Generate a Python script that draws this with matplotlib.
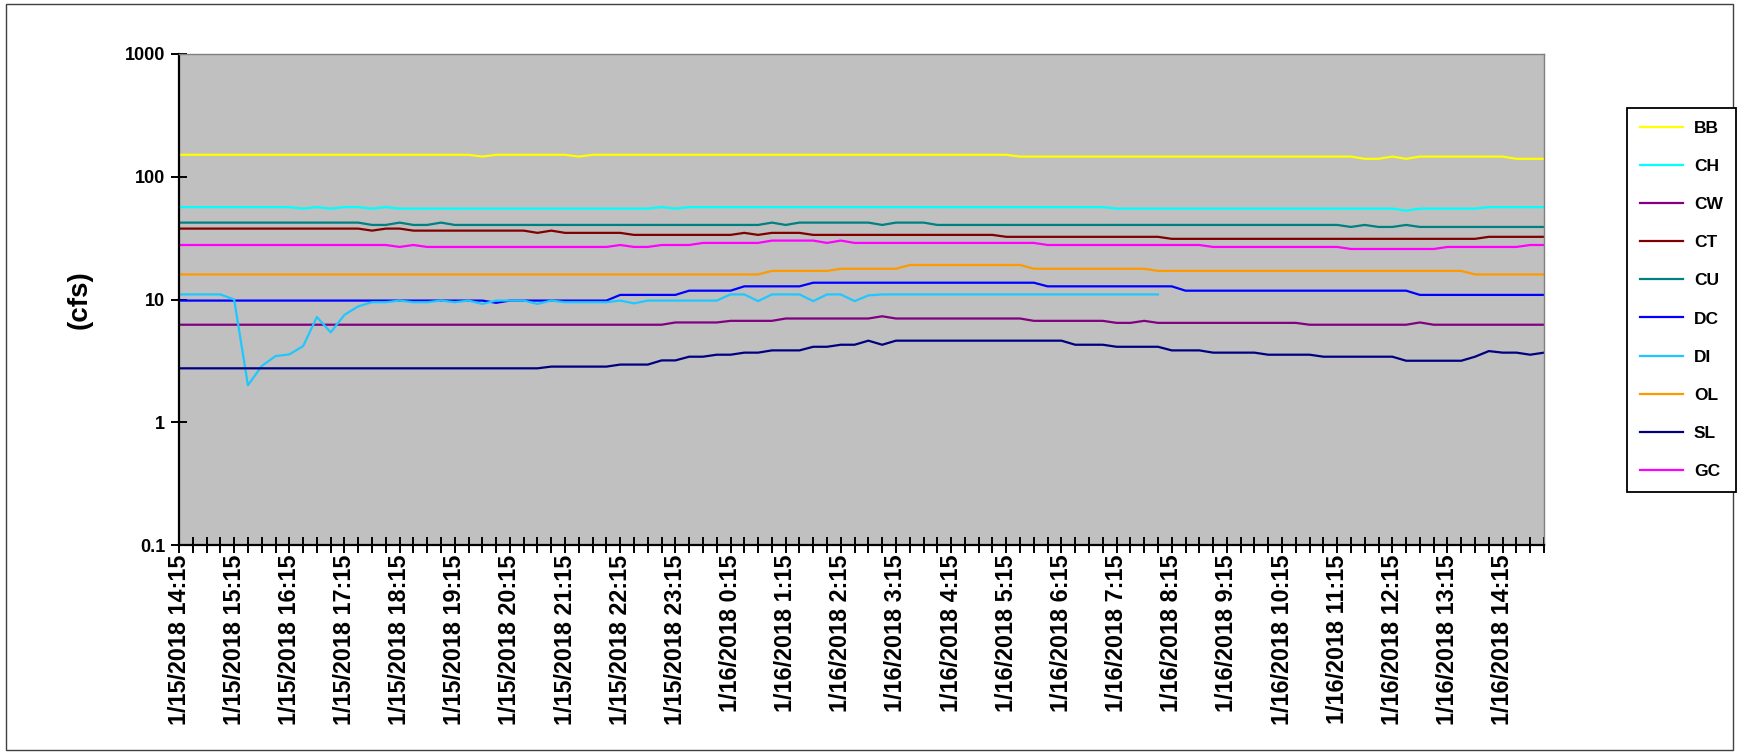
import numpy as np
import pandas as pd
import matplotlib
matplotlib.use("Agg")
import matplotlib.pyplot as plt
from matplotlib.patches import Rectangle

# 15 minute readings, 1/15/2018 14:15 -> 1/16/2018 15:00
times = pd.date_range("2018-01-15 14:15", periods=100, freq="15min")
time_labels = [f"{t.month}/{t.day}/{t.year} {t.hour}:{t.minute:02d}" for t in times]

names = ["BB", "CH", "CW", "CT", "CU", "DC", "DI", "OL", "SL", "GC"]
colors = ["#FFFF00", "#00FFFF", "#800080", "#800000", "#008080",
          "#0000FF", "#1EC8FF", "#FF9900", "#000080", "#FF00FF"]

nan = np.nan

BB = [151]*10 + [151]*10 + \
     [151, 151, 146, 151, 151, 151, 151, 151, 151, 146] + \
     [151]*10 + [151]*10 + [151]*10 + \
     [151, 146, 146, 146, 146, 146, 146, 146, 146, 146] + \
     [146]*10 + \
     [146, 146, 146, 146, 146, 146, 140, 140, 146, 140] + \
     [146, 146, 146, 146, 146, 146, 146, 140, 140, 140]

CH = [56.6, 56.6, 56.6, 56.6, 56.6, 56.6, 56.6, 56.6, 56.6, 55] + \
     [56.6, 55, 56.6, 56.6, 55, 56.6, 55, 55, 55, 55] + \
     [55]*10 + \
     [55, 55, 55, 55, 55, 56.6, 55, 56.6, 56.6, 56.6] + \
     [56.6]*10 + [56.6]*10 + \
     [56.6, 56.6, 56.6, 56.6, 56.6, 56.6, 56.6, 56.6, 55, 55] + \
     [55]*10 + \
     [55, 55, 55, 55, 55, 55, 55, 55, 55, 52.9] + \
     [55, 55, 55, 55, 55, 56.6, 56.6, 56.6, 56.6, 56.6]

CW = [6.23]*10 + [6.23]*10 + [6.23]*10 + \
     [6.23, 6.23, 6.23, 6.23, 6.23, 6.23, 6.5, 6.5, 6.5, 6.5] + \
     [6.7, 6.7, 6.7, 6.7, 7.0, 7.0, 7.0, 7.0, 7.0, 7.0] + \
     [7.0, 7.3, 7.0, 7.0, 7.0, 7.0, 7.0, 7.0, 7.0, 7.0] + \
     [7.0, 7.0, 6.7, 6.7, 6.7, 6.7, 6.7, 6.7, 6.45, 6.45] + \
     [6.7, 6.45, 6.45, 6.45, 6.45, 6.45, 6.45, 6.45, 6.45, 6.45] + \
     [6.45, 6.45, 6.23, 6.23, 6.23, 6.23, 6.23, 6.23, 6.23, 6.23] + \
     [6.5, 6.23, 6.23, 6.23, 6.23, 6.23, 6.23, 6.23, 6.23, 6.23]

CT = [37.8]*10 + \
     [37.8, 37.8, 37.8, 37.8, 36.4, 37.8, 37.8, 36.4, 36.4, 36.4] + \
     [36.4, 36.4, 36.4, 36.4, 36.4, 36.4, 34.9, 36.4, 34.9, 34.9] + \
     [34.9, 34.9, 34.9, 33.6, 33.6, 33.6, 33.6, 33.6, 33.6, 33.6] + \
     [33.6, 34.9, 33.6, 34.9, 34.9, 34.9, 33.6, 33.6, 33.6, 33.6] + \
     [33.6]*10 + [32.4]*10 + \
     [32.4, 32.4, 31.2, 31.2, 31.2, 31.2, 31.2, 31.2, 31.2, 31.2] + \
     [31.2]*10 + \
     [31.2, 31.2, 31.2, 31.2, 31.2, 32.4, 32.4, 32.4, 32.4, 32.4]

CU = [42.3]*10 + \
     [42.3, 42.3, 42.3, 42.3, 40.5, 40.5, 42.3, 40.5, 40.5, 42.3] + \
     [40.5]*10 + [40.5]*10 + \
     [40.5, 40.5, 40.5, 42.3, 40.5, 42.3, 42.3, 42.3, 42.3, 42.3] + \
     [42.3, 40.5, 42.3, 42.3, 42.3, 40.5, 40.5, 40.5, 40.5, 40.5] + \
     [40.5]*10 + [40.5]*10 + \
     [40.5, 40.5, 40.5, 40.5, 40.5, 39.0, 40.5, 39.0, 39.0, 40.5] + \
     [39.0]*10

DC = [9.8]*10 + [9.8]*10 + \
     [9.8, 9.8, 9.8, 9.4, 9.8, 9.8, 9.8, 9.8, 9.8, 9.8] + \
     [9.8, 9.8, 10.9, 10.9, 10.9, 10.9, 10.9, 11.8, 11.8, 11.8] + \
     [11.8, 12.8, 12.8, 12.8, 12.8, 12.8, 13.7, 13.7, 13.7, 13.7] + \
     [13.7]*10 + \
     [13.7, 13.7, 13.7, 12.8, 12.8, 12.8, 12.8, 12.8, 12.8, 12.8] + \
     [12.8, 12.8, 12.8, 11.8, 11.8, 11.8, 11.8, 11.8, 11.8, 11.8] + \
     [11.8]*10 + [10.9]*10

DI = [11.0, 11.0, 11.0, 11.0, 10.0, 2.0, 2.87, 3.46, 3.57, 4.17] + \
     [7.2, 5.4, 7.5, 8.8, 9.5, 9.5, 9.8, 9.5, 9.5, 9.8] + \
     [9.5, 9.8, 9.2, 9.8, 9.8, 9.8, 9.2, 9.8, 9.5, 9.5] + \
     [9.5, 9.5, 9.8, 9.3, 9.8, 9.8, 9.8, 9.8, 9.8, 9.8] + \
     [11.0, 11.0, 9.7, 11.0, 11.0, 11.0, 9.7, 11.0, 11.0, 9.7] + \
     [10.8, 11.0, 11.0, 11.0, 11.0, 11.0, 11.0, 11.0, 11.0, 11.0] + \
     [11.0]*10 + \
     [11.0, 11.0, nan, nan, nan, nan, nan, nan, nan, nan] + \
     [nan]*10 + [nan]*10

OL = [16.0]*10 + [16.0]*10 + [16.0]*10 + [16.0]*10 + \
     [16.0, 16.0, 16.0, 17.1, 17.1, 17.1, 17.1, 17.1, 17.8, 17.8] + \
     [17.8, 17.8, 17.8, 19.1, 19.1, 19.1, 19.1, 19.1, 19.1, 19.1] + \
     [19.1, 19.1, 17.8, 17.8, 17.8, 17.8, 17.8, 17.8, 17.8, 17.8] + \
     [17.8, 17.1, 17.1, 17.1, 17.1, 17.1, 17.1, 17.1, 17.1, 17.1] + \
     [17.1]*10 + \
     [17.1, 17.1, 17.1, 17.1, 16.0, 16.0, 16.0, 16.0, 16.0, 16.0]

SL = [2.75]*10 + [2.75]*10 + \
     [2.75, 2.75, 2.75, 2.75, 2.75, 2.75, 2.75, 2.84, 2.84, 2.84] + \
     [2.84, 2.84, 2.95, 2.95, 2.95, 3.19, 3.19, 3.42, 3.42, 3.55] + \
     [3.55, 3.69, 3.69, 3.85, 3.85, 3.85, 4.12, 4.12, 4.28, 4.28] + \
     [4.62, 4.28, 4.62, 4.62, 4.62, 4.62, 4.62, 4.62, 4.62, 4.62] + \
     [4.62, 4.62, 4.62, 4.62, 4.62, 4.28, 4.28, 4.28, 4.12, 4.12] + \
     [4.12, 4.12, 3.85, 3.85, 3.85, 3.69, 3.69, 3.69, 3.69, 3.55] + \
     [3.55, 3.55, 3.55, 3.42, 3.42, 3.42, 3.42, 3.42, 3.42, 3.17] + \
     [3.17, 3.17, 3.17, 3.17, 3.42, 3.80, 3.69, 3.69, 3.55, 3.69]

GC = [27.8]*10 + \
     [27.8, 27.8, 27.8, 27.8, 27.8, 27.8, 26.8, 27.8, 26.8, 26.8] + \
     [26.8]*10 + \
     [26.8, 26.8, 27.8, 26.8, 26.8, 27.8, 27.8, 27.8, 28.9, 28.9] + \
     [28.9, 28.9, 28.9, 30.2, 30.2, 30.2, 30.2, 28.9, 30.2, 28.9] + \
     [28.9]*10 + \
     [28.9, 28.9, 28.9, 27.8, 27.8, 27.8, 27.8, 27.8, 27.8, 27.8] + \
     [27.8, 27.8, 27.8, 27.8, 27.8, 26.8, 26.8, 26.8, 26.8, 26.8] + \
     [26.8, 26.8, 26.8, 26.8, 26.8, 25.8, 25.8, 25.8, 25.8, 25.8] + \
     [25.8, 25.8, 26.8, 26.8, 26.8, 26.8, 26.8, 26.8, 27.8, 27.8]

series = [BB, CH, CW, CT, CU, DC, DI, OL, SL, GC]

plt.rcParams['font.family'] = ['Liberation Sans', 'DejaVu Sans']
plt.rcParams['font.weight'] = 'bold'

W, H = 1739, 754
fig = plt.figure(figsize=(W/100, H/100), dpi=100)
ax = fig.add_axes([179/W, 1-545/H, (1544-179)/W, (545-54)/H])
ax.set_facecolor("#C0C0C0")

x = np.arange(len(times))
for name, vals, c in zip(names, series, colors):
    ax.plot(x, vals, color=c, lw=1.6, label=name)

ax.set_yscale("log")
ax.set_ylim(0.1, 1000)
ax.set_yticks([0.1, 1, 10, 100, 1000])
ax.set_yticklabels(["0.1", "1", "10", "100", "1000"])
ax.yaxis.set_minor_locator(matplotlib.ticker.NullLocator())

ax.set_xlim(0, len(times)-1)
ax.set_xticks(x[::4])
ax.set_xticklabels(time_labels[::4], rotation=90)
ax.set_xticks(x, minor=True)

ax.tick_params(axis="both", which="both", direction="inout", length=12, width=1.4, color="black")
ax.tick_params(axis="y", labelsize=13, pad=4)
ax.tick_params(axis="x", labelsize=16.8, pad=1)
for lab in ax.get_xticklabels() + ax.get_yticklabels():
    lab.set_fontweight("bold")

for s in ["left", "bottom"]:
    ax.spines[s].set_color("black")
    ax.spines[s].set_linewidth(1.6)
for s in ["top", "right"]:
    ax.spines[s].set_color("#808080")
    ax.spines[s].set_linewidth(1.0)

fig.text(80/W, 1-300/H, "(cfs)", rotation=90, ha="center", va="center",
         fontsize=20, fontweight="bold")

leg = fig.legend(loc="upper left", bbox_to_anchor=(1627/W, 1-108/H),
                 frameon=True, fancybox=False, framealpha=1, edgecolor="black",
                 prop={"size": 12.5, "weight": "bold"}, handlelength=2.5,
                 handletextpad=0.6, labelspacing=1.32, borderpad=0.75,
                 borderaxespad=0)
leg.get_frame().set_linewidth(1.3)

fig.patches.append(Rectangle((6/W, 4/H), (1733-6)/W, (750-4)/H, transform=fig.transFigure,
                             fill=False, edgecolor="#404040", lw=1.0))

fig.savefig("out.png", dpi=100, facecolor="white")
